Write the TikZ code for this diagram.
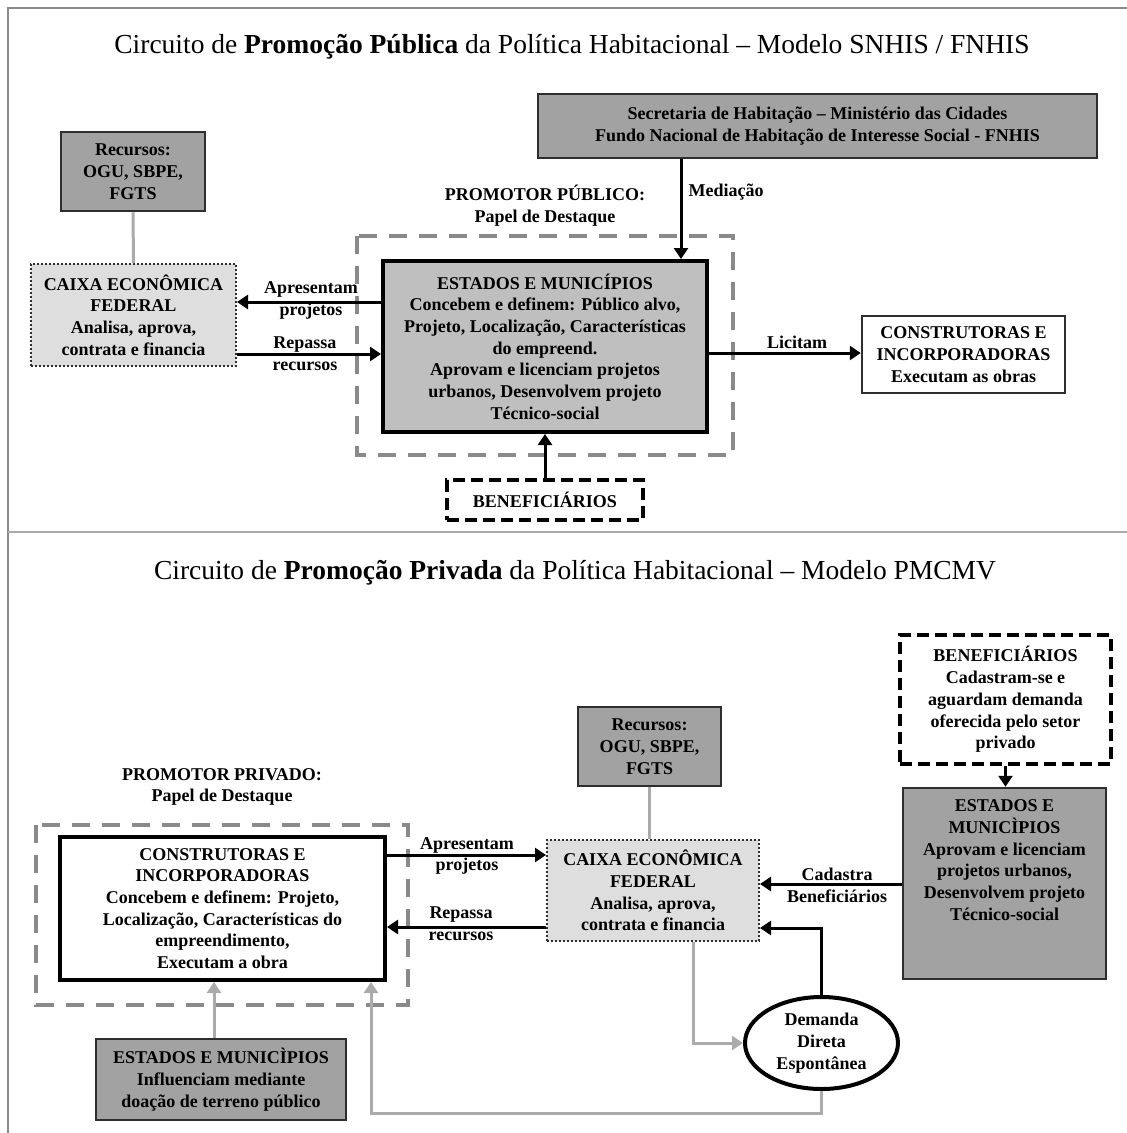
\documentclass[tikz,border=0pt]{standalone}
\usepackage{fontspec}
\setmainfont{Liberation Serif}
\usetikzlibrary{arrows.meta,shapes.geometric}

\definecolor{boxdark}{HTML}{A2A2A2}
\definecolor{boxmid}{HTML}{BFBFBF}
\definecolor{boxlight}{HTML}{DEDEDE}
\definecolor{edgedark}{HTML}{2E2E2E}
\definecolor{framegray}{HTML}{8A8A8A}
\definecolor{linegray}{HTML}{ABABAB}

\newcommand\bodyfont{\fontsize{18}{21.7}\selectfont\bfseries}
\newcommand\titlefont{\fontsize{27.5}{31}\selectfont}

\begin{document}
\begin{tikzpicture}[x=1pt, y=-1pt,
    every node/.style={inner sep=0pt, align=center, font=\bodyfont},
    darkbox/.style={draw=edgedark, fill=boxdark, line width=2.5pt},
    midbox/.style={draw=black, fill=boxmid, line width=4pt},
    caixabox/.style={draw=edgedark, fill=boxlight, line width=2pt, dash pattern=on 2pt off 2pt},
    whitebox/.style={draw=edgedark, fill=white, line width=2.5pt},
    thickbox/.style={draw=black, fill=white, line width=4pt},
    benbox/.style={draw=black, line width=4pt, dash pattern=on 12pt off 6pt},
    promframe/.style={draw=framegray, line width=4pt, dash pattern=on 18pt off 12pt},
    arr/.style={draw=black, line width=3pt, -{Triangle[length=11pt,width=14pt]}},
    garr/.style={draw=linegray, line width=3pt, -{Triangle[length=11pt,width=14pt]}},
    gline/.style={draw=linegray, line width=3pt}]
    \useasboundingbox (0,0) rectangle (1127,1133);

    % moldura
    \draw[framegray, line width=2pt] (8,1133) -- (8,8) -- (1127,8);
    \draw[linegray, line width=2pt] (8,532) -- (1127,532);

    % ---- promocao publica ----
    \node[font=\titlefont] (titleA) at (572,47)
        {Circuito de \textbf{Promoção Pública} da Política Habitacional – Modelo SNHIS / FNHIS};

    \node[darkbox, minimum width=559pt, minimum height=64pt] (secr) at (817.5,126)
        {Secretaria de Habitação – Ministério das Cidades\\Fundo Nacional de Habitação de Interesse Social - FNHIS};
    \node[darkbox, minimum width=144pt, minimum height=79pt] (recA) at (133,171.5)
        {Recursos:\\OGU, SBPE,\\FGTS};
    \node[caixabox, minimum width=205pt, minimum height=102pt] (caixaA) at (133.5,315)
        {CAIXA ECONÔMICA\\FEDERAL\\Analisa, aprova,\\contrata e financia};
    \node (promA) at (545,206) {PROMOTOR PÚBLICO:\\Papel de Destaque};
    \draw[promframe] (357,236) rectangle (733,455);
    \node[midbox, minimum width=324pt, minimum height=171pt] (estA) at (545,346.5)
        {ESTADOS E MUNICÍPIOS\\Concebem e definem: Público alvo,\\Projeto, Localização, Características\\do empreend.\\Aprovam e licenciam projetos\\urbanos, Desenvolvem projeto\\Técnico-social};
    \node[whitebox, minimum width=203pt, minimum height=77pt] (constA) at (963.5,354.5)
        {CONSTRUTORAS E\\INCORPORADORAS\\Executam as obras};
    \node[benbox, minimum width=196pt, minimum height=40pt] (benA) at (545,500)
        {BENEFICIÁRIOS};

    \coordinate (xMed) at (681,0);
    \coordinate (yApr) at (0,302);
    \coordinate (yRep) at (0,354);
    \coordinate (yLic) at (0,353);
    \draw[arr] (secr.south -| xMed) -- (estA.north -| xMed);
    \node (medLbl) at (726,192) {Mediação};
    \draw[arr] (estA.west |- yApr) -- (caixaA.east |- yApr);
    \node (aprA) at (311,300.5) {Apresentam\\projetos};
    \draw[arr] (caixaA.east |- yRep) -- (estA.west |- yRep);
    \node (repA) at (305,354) {Repassa\\recursos};
    \draw[arr] (estA.east |- yLic) -- (constA.west |- yLic);
    \node (licLbl) at (797,342) {Licitam};
    \draw[arr] (benA.north) -- (estA.south);
    \draw[gline] (recA.south) -- (caixaA.north);

    % ---- promocao privada ----
    \node[font=\titlefont] (titleB) at (575,573)
        {Circuito de \textbf{Promoção Privada} da Política Habitacional – Modelo PMCMV};

    \node[benbox, minimum width=211pt, minimum height=129pt] (benB) at (1005.5,699.5)
        {BENEFICIÁRIOS\\Cadastram-se e\\aguardam demanda\\oferecida pelo setor\\privado};
    \node[darkbox, minimum width=203pt, minimum height=191pt] (estB) at (1004.5,883.5) {};
    \node (estBtxt) at (1004.5,860)
        {ESTADOS E\\MUNICÌPIOS\\Aprovam e licenciam\\projetos urbanos,\\Desenvolvem projeto\\Técnico-social};
    \node[darkbox, minimum width=143pt, minimum height=79pt] (recB) at (649.5,746.5)
        {Recursos:\\OGU, SBPE,\\FGTS};
    \node[caixabox, minimum width=212pt, minimum height=101pt] (caixaB) at (653,890.5)
        {CAIXA ECONÔMICA\\FEDERAL\\Analisa, aprova,\\contrata e financia};
    \node (promB) at (222,787) {PROMOTOR PRIVADO:\\Papel de Destaque};
    \draw[promframe] (36,825) rectangle (408,1005);
    \node[thickbox, minimum width=325pt, minimum height=143pt] (constB) at (222.5,908.5)
        {CONSTRUTORAS E\\INCORPORADORAS\\Concebem e definem: Projeto,\\Localização, Características do\\empreendimento,\\Executam a obra};
    \node[ellipse, draw=black, line width=4pt, fill=white, minimum width=153pt, minimum height=92pt] (dem) at (821.5,1043)
        {Demanda\\Direta\\Espontânea};
    \node[darkbox, minimum width=250pt, minimum height=81pt] (estC) at (221,1079.5)
        {ESTADOS E MUNICÌPIOS\\Influenciam mediante\\doação de terreno público};

    \coordinate (yAprB) at (0,855);
    \coordinate (yRepB) at (0,927);
    \coordinate (yCad) at (0,884);
    \coordinate (yDem) at (0,928);
    \coordinate (yBot) at (0,1113);
    \coordinate (xG) at (693,0);
    \coordinate (xG2) at (371,0);
    \coordinate (xG3) at (214,0);
    \draw[arr] (benB.south) -- (benB.south |- estB.north);
    \draw[arr] (estB.west |- yCad) -- (caixaB.east |- yCad);
    \node (cadLbl) at (837,885.5) {Cadastra\\Beneficiários};
    \draw[arr] (constB.east |- yAprB) -- (caixaB.west |- yAprB);
    \node (aprB) at (467,856) {Apresentam\\projetos};
    \draw[arr] (caixaB.west |- yRepB) -- (constB.east |- yRepB);
    \node (repB) at (461,924) {Repassa\\recursos};
    \draw[gline] (recB.south) -- (recB.south |- caixaB.north);
    \draw[arr] (dem.north) |- (caixaB.east |- yDem);
    \draw[garr] (caixaB.south -| xG) |- (dem.west);
    \draw[garr] (dem.south) -- (dem.south |- yBot) -| (constB.south -| xG2);
    \draw[garr] (estC.north -| xG3) -- (constB.south -| xG3);
\end{tikzpicture}
\end{document}
